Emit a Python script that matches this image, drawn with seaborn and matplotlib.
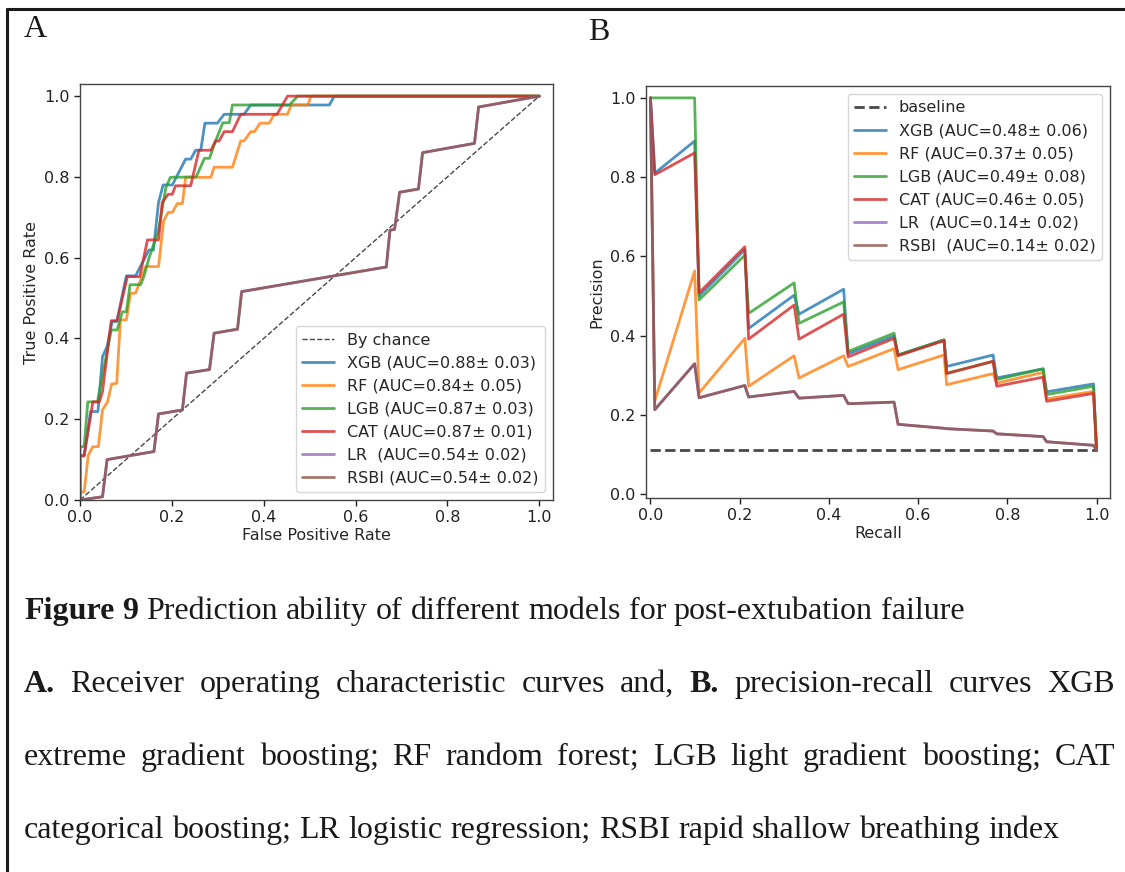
import matplotlib
matplotlib.use("Agg")
import matplotlib.pyplot as plt
import seaborn as sns
import pandas as pd
from matplotlib.lines import Line2D

# ---- data ----
models = ["XGB", "RF", "LGB", "CAT", "LR", "RSBI"]
colors = sns.color_palette("tab10", 6)

roc_labels = ["XGB (AUC=0.88± 0.03)", "RF (AUC=0.84± 0.05)", "LGB (AUC=0.87± 0.03)",
              "CAT (AUC=0.87± 0.01)", "LR  (AUC=0.54± 0.02)", "RSBI (AUC=0.54± 0.02)"]
pr_labels = ["XGB (AUC=0.48± 0.06)", "RF (AUC=0.37± 0.05)", "LGB (AUC=0.49± 0.08)",
             "CAT (AUC=0.46± 0.05)", "LR  (AUC=0.14± 0.02)", "RSBI  (AUC=0.14± 0.02)"]

xgb_fpr = [0, 0, 0.009, 0.023, 0.039, 0.049, 0.059, 0.070, 0.080, 0.101, 0.121, 0.150, 0.160,
           0.171, 0.181, 0.201, 0.230, 0.241, 0.252, 0.263, 0.272, 0.299, 0.314, 0.357, 0.372,
           0.543, 0.554, 1.0]
xgb_tpr = [0, 0.109, 0.109, 0.219, 0.219, 0.355, 0.380, 0.442, 0.442, 0.555, 0.555, 0.619, 0.619,
           0.737, 0.780, 0.780, 0.844, 0.844, 0.866, 0.866, 0.933, 0.933, 0.955, 0.955, 0.978,
           0.978, 1.0, 1.0]

rf_fpr = [0, 0, 0.009, 0.018, 0.028, 0.040, 0.049, 0.060, 0.069, 0.080, 0.088, 0.101, 0.110,
          0.121, 0.143, 0.171, 0.182, 0.192, 0.201, 0.212, 0.223, 0.230, 0.285, 0.292, 0.332,
          0.350, 0.357, 0.372, 0.380, 0.392, 0.412, 0.423, 0.452, 0.460, 0.496, 0.503, 1.0]
rf_tpr = [0, 0.020, 0.020, 0.111, 0.132, 0.132, 0.223, 0.243, 0.287, 0.289, 0.446, 0.446, 0.512,
          0.512, 0.578, 0.578, 0.691, 0.712, 0.712, 0.734, 0.734, 0.799, 0.799, 0.824, 0.824,
          0.889, 0.889, 0.912, 0.912, 0.933, 0.933, 0.955, 0.955, 0.978, 0.978, 1.0, 1.0]

lgb_fpr = [0, 0, 0.009, 0.017, 0.038, 0.049, 0.068, 0.081, 0.092, 0.101, 0.109, 0.132, 0.139,
           0.150, 0.171, 0.187, 0.197, 0.253, 0.271, 0.282, 0.296, 0.311, 0.325, 0.332, 0.456,
           0.474, 1.0]
lgb_tpr = [0, 0.132, 0.132, 0.243, 0.243, 0.309, 0.421, 0.421, 0.466, 0.466, 0.533, 0.533, 0.553,
           0.598, 0.668, 0.774, 0.799, 0.800, 0.846, 0.846, 0.891, 0.934, 0.934, 0.978, 0.978,
           1.0, 1.0]

cat_fpr = [0, 0, 0.009, 0.028, 0.042, 0.049, 0.068, 0.081, 0.103, 0.130, 0.147, 0.171, 0.179,
           0.192, 0.201, 0.208, 0.241, 0.259, 0.285, 0.295, 0.303, 0.314, 0.332, 0.350, 0.429,
           0.452, 1.0]
cat_tpr = [0, 0.110, 0.110, 0.243, 0.243, 0.268, 0.444, 0.444, 0.553, 0.553, 0.644, 0.644, 0.737,
           0.757, 0.757, 0.778, 0.778, 0.866, 0.866, 0.889, 0.889, 0.912, 0.912, 0.955, 0.955,
           1.0, 1.0]

rsbi_fpr = [0, 0.049, 0.059, 0.161, 0.171, 0.223, 0.232, 0.282, 0.292, 0.343, 0.352, 0.667,
            0.675, 0.685, 0.696, 0.737, 0.746, 0.859, 0.868, 1.0]
rsbi_tpr = [0, 0.008, 0.100, 0.120, 0.213, 0.223, 0.314, 0.323, 0.413, 0.423, 0.516, 0.577,
            0.668, 0.670, 0.762, 0.770, 0.860, 0.883, 0.973, 1.0]
lr_fpr = rsbi_fpr
lr_tpr = rsbi_tpr

recall = [0, 0.0097, 0.099, 0.109, 0.2115, 0.220, 0.322, 0.333, 0.433, 0.443, 0.546, 0.555,
          0.658, 0.664, 0.768, 0.776, 0.880, 0.888, 0.993, 1.0]
xgb_prec = [1.0, 0.810, 0.891, 0.500, 0.617, 0.418, 0.502, 0.454, 0.517, 0.354, 0.399, 0.351,
            0.389, 0.322, 0.351, 0.293, 0.316, 0.258, 0.278, 0.110]
rf_prec = [1.0, 0.235, 0.563, 0.255, 0.393, 0.272, 0.349, 0.293, 0.349, 0.322, 0.367, 0.314,
           0.351, 0.276, 0.304, 0.280, 0.307, 0.240, 0.259, 0.110]
lgb_prec = [1.0, 1.0, 1.0, 0.490, 0.603, 0.456, 0.533, 0.431, 0.485, 0.360, 0.406, 0.351,
            0.389, 0.305, 0.335, 0.289, 0.316, 0.251, 0.272, 0.110]
cat_prec = [1.0, 0.806, 0.861, 0.508, 0.624, 0.391, 0.477, 0.391, 0.454, 0.346, 0.393, 0.349,
            0.387, 0.304, 0.335, 0.272, 0.295, 0.234, 0.254, 0.110]
rsbi_prec = [1.0, 0.213, 0.329, 0.243, 0.274, 0.245, 0.259, 0.242, 0.249, 0.228, 0.232, 0.176,
             0.166, 0.165, 0.159, 0.152, 0.145, 0.132, 0.123, 0.110]
lr_prec = rsbi_prec
baseline = 0.11

roc_x = [xgb_fpr, rf_fpr, lgb_fpr, cat_fpr, lr_fpr, rsbi_fpr]
roc_y = [xgb_tpr, rf_tpr, lgb_tpr, cat_tpr, lr_tpr, rsbi_tpr]
pr_y = [xgb_prec, rf_prec, lgb_prec, cat_prec, lr_prec, rsbi_prec]

caption = [
    ([("Figure", True), ("9", True), ("Prediction", False), ("ability", False), ("of", False),
      ("different", False), ("models", False), ("for", False), ("post-extubation", False),
      ("failure", False)], False),
    ([("A.", True)] + [(w, False) for w in "Receiver operating characteristic curves and,".split()]
     + [("B.", True)] + [(w, False) for w in "precision-recall curves XGB".split()], True),
    ([(w, False) for w in "extreme gradient boosting; RF random forest; LGB light gradient boosting; CAT".split()], True),
    ([(w, False) for w in "categorical boosting; LR logistic regression; RSBI rapid shallow breathing index".split()], False),
]

# ---- figure ----
sns.set_theme(style="ticks")
plt.rcParams["font.family"] = ["DejaVu Sans"]
plt.rcParams["axes.edgecolor"] = "#444444"

W, H = 1125, 872
fig = plt.figure(figsize=(W / 100, H / 100), dpi=100)


def box(l, t, r, b):
    return [l / W, 1 - b / H, (r - l) / W, (b - t) / H]


FS = 11.5
axA = fig.add_axes(box(80, 84, 553, 500))
axB = fig.add_axes(box(646, 86, 1110, 498))

# panel A: ROC
axA.plot([0, 1], [0, 1], "k--", lw=1, alpha=0.8, label="By chance")
for i, m in enumerate(models):
    df = pd.DataFrame({"fpr": roc_x[i], "tpr": roc_y[i]})
    sns.lineplot(data=df, x="fpr", y="tpr", sort=False, estimator=None, ax=axA,
                 color=colors[i], lw=2, alpha=0.8, label=roc_labels[i])
axA.set_xlim(0, 1.03)
axA.set_ylim(0, 1.03)
axA.set_xlabel("False Positive Rate", fontsize=FS, labelpad=2)
axA.set_ylabel("True Positive Rate", fontsize=FS, labelpad=4)
axA.legend(loc="lower right", fontsize=FS)

# panel B: PR
axB.plot([0, 1], [baseline, baseline], "k--", lw=2, alpha=0.8, label="baseline")
for i, m in enumerate(models):
    df = pd.DataFrame({"recall": recall, "precision": pr_y[i]})
    sns.lineplot(data=df, x="recall", y="precision", sort=False, estimator=None, ax=axB,
                 color=colors[i], lw=2, alpha=0.8, label=pr_labels[i])
axB.set_xlim(-0.01, 1.03)
axB.set_ylim(-0.01, 1.03)
axB.set_xlabel("Recall", fontsize=FS, labelpad=2)
axB.set_ylabel("Precision", fontsize=FS, labelpad=4)
axB.legend(loc="upper right", fontsize=FS)

for ax in (axA, axB):
    ax.set_xticks([0, 0.2, 0.4, 0.6, 0.8, 1.0])
    ax.set_yticks([0, 0.2, 0.4, 0.6, 0.8, 1.0])
    ax.tick_params(labelsize=FS, length=4, width=1, colors="#222222")
    for s in ax.spines.values():
        s.set_linewidth(1.0)

# frame and panel letters
fig.add_artist(Line2D([7 / W, 1], [1 - 9 / H] * 2, color="k", lw=2.2, transform=fig.transFigure))
fig.add_artist(Line2D([7 / W] * 2, [0, 1 - 9 / H], color="k", lw=2.2, transform=fig.transFigure))
CAP_FS = 23
serif = "Liberation Serif"
fig.text(24 / W, 1 - 37 / H, "A", fontsize=CAP_FS, family=serif, color="k", va="baseline")
fig.text(588 / W, 1 - 40 / H, "B", fontsize=CAP_FS, family=serif, color="k", va="baseline")

# caption, word by word so lines can be justified
renderer = fig.canvas.get_renderer()


def word_width(s, bold):
    t = fig.text(0, 0, s, fontsize=CAP_FS, family=serif, weight="bold" if bold else "normal")
    w = t.get_window_extent(renderer).width
    t.remove()
    return w


space = word_width("x x", False) - word_width("xx", False)
x_left, x_right = 24, 1115
baselines = [619, 692, 765, 838]
for (words, justify), yb in zip(caption, baselines):
    widths = [word_width(w, b) for w, b in words]
    if justify:
        gap = (x_right - x_left - sum(widths)) / (len(words) - 1)
    else:
        gap = space
    x = x_left
    for (w, b), wd in zip(words, widths):
        fig.text(x / W, 1 - yb / H, w, fontsize=CAP_FS, family=serif, color="k",
                 weight="bold" if b else "normal", va="baseline", ha="left")
        x += wd + gap

fig.savefig("out.png", dpi=100, facecolor="white")
